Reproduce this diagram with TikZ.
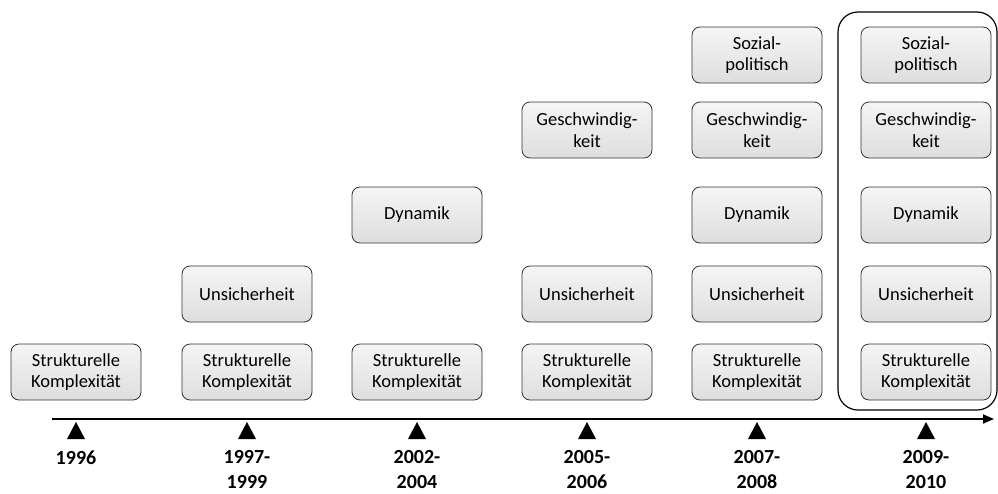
\documentclass[tikz,border=0pt]{standalone}
\usepackage{fontspec}
\setmainfont{Carlito}
\usetikzlibrary{arrows.meta}
\begin{document}
\begin{tikzpicture}[x=1pt,y=-1pt,
  factor/.style={draw=black!80, line width=0.8pt, rounded corners=8pt,
    top color=black!4, bottom color=black!13,
    minimum width=130pt, minimum height=56pt, inner sep=2pt,
    align=center, font=\fontsize{18.5}{21.5}\selectfont},
  year/.style={anchor=north, align=center,
    font=\fontsize{20}{25}\selectfont\bfseries},
  marker/.style={fill=black}]
\useasboundingbox (0,0) rectangle (998,493);

% highlight frame around the last period
\draw[line width=1.2pt, rounded corners=20pt] (838,12) rectangle (997,410);

% time axis
\coordinate (axstart) at (52,419);
\coordinate (axend) at (994,419);
\draw[line width=1.8pt, -{Triangle[length=11pt,width=9pt]}] (axstart) -- (axend);

% period markers and labels
\foreach \n/\x/\t in {a/76/1996, b/247/{1997-\\1999}, c/417/{2002-\\2004},
                      d/587/{2005-\\2006}, e/757/{2007-\\2008}, f/926/{2009-\\2010}}{
  \coordinate (m\n) at (\x,422);
  \fill[marker] (m\n) -- ++(9,17) -- ++(-18,0) -- cycle;
  \node[year] (y\n) at (\x,447) {\t};
}

% factors per period
\node[factor] (a1) at (76,372) {Strukturelle\\Komplexität};

\node[factor] (b1) at (247,372) {Strukturelle\\Komplexität};
\node[factor] (b2) at (247,294) {Unsicherheit};

\node[factor] (c1) at (417,372) {Strukturelle\\Komplexität};
\node[factor] (c3) at (417,215) {Dynamik};

\node[factor] (d1) at (587,372) {Strukturelle\\Komplexität};
\node[factor] (d2) at (587,294) {Unsicherheit};
\node[factor] (d4) at (587,130) {Geschwindig-\\keit};

\node[factor] (e1) at (757,372) {Strukturelle\\Komplexität};
\node[factor] (e2) at (757,294) {Unsicherheit};
\node[factor] (e3) at (757,215) {Dynamik};
\node[factor] (e4) at (757,130) {Geschwindig-\\keit};
\node[factor] (e5) at (757,55) {Sozial-\\politisch};

\node[factor] (f1) at (926,372) {Strukturelle\\Komplexität};
\node[factor] (f2) at (926,294) {Unsicherheit};
\node[factor] (f3) at (926,215) {Dynamik};
\node[factor] (f4) at (926,130) {Geschwindig-\\keit};
\node[factor] (f5) at (926,55) {Sozial-\\politisch};
\end{tikzpicture}
\end{document}
